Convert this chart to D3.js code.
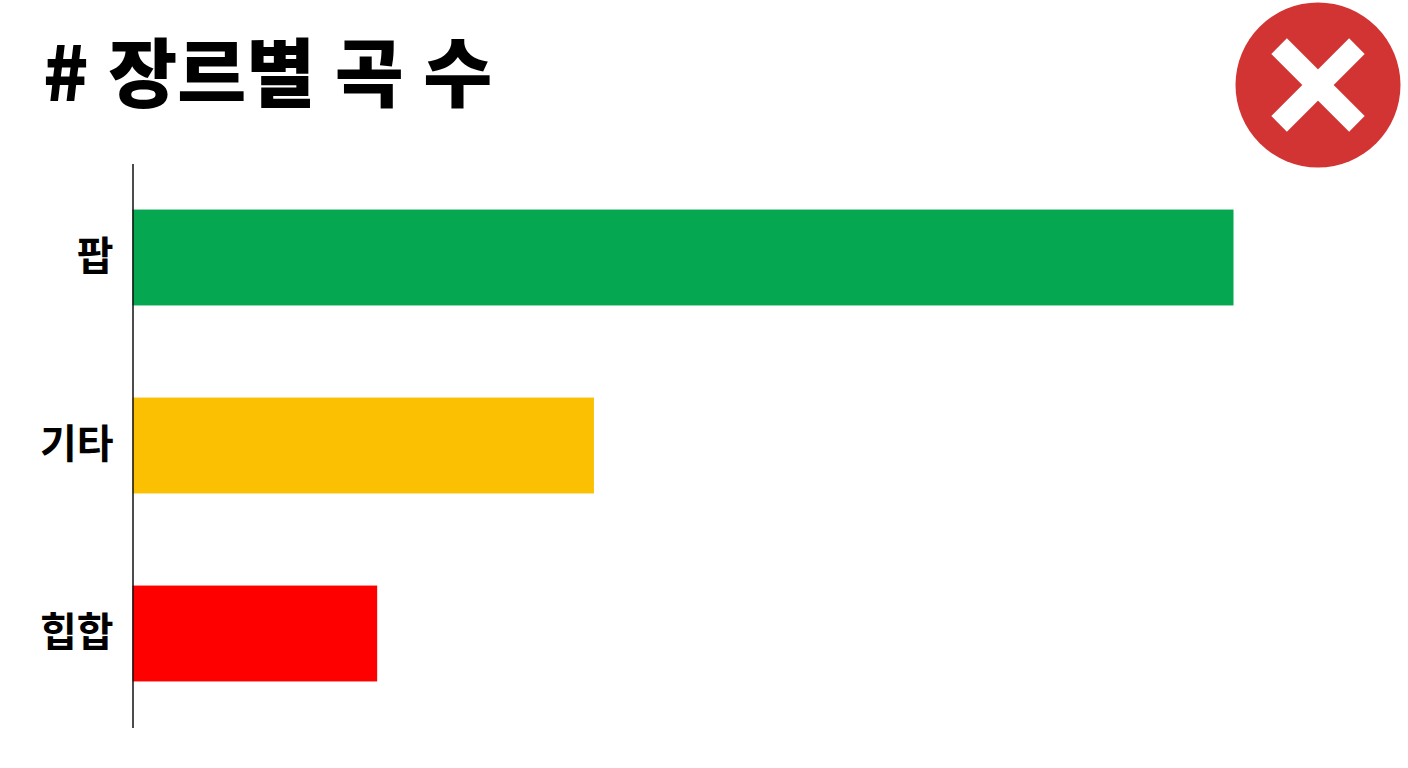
<!DOCTYPE html>
<html lang="ko">
<head>
  <meta charset="UTF-8">
  <title>장르별 곡 수</title>
  <script src="https://d3js.org/d3.v7.min.js"></script>
  <style>
    html, body { margin: 0; padding: 0; background: #fff; overflow: hidden; }
    text { font-family: "Noto Sans CJK KR", sans-serif; fill: #000; }
  </style>
</head>
<body>
<svg></svg>
<script>
  const genres = ['팝', '기타', '힙합'];
  const counts = [45, 18.86, 10];
  const barColors = ['#05a851', '#fbc002', '#ff0000'];
  const titleText = '# 장르별 곡 수';

  const width = 1408;
  const height = 768;
  const axisX = 132.5;

  const svg = d3.select('svg')
    .attr('width', width)
    .attr('height', height)
    .style('display', 'block');

  // 가로 막대 스케일
  const x = d3.scaleLinear().domain([0, 45]).range([axisX, 1233.5]);
  const y = d3.scaleBand().domain(genres).range([163.5, 727.5]).padding(0.49).paddingOuter(0.245);

  svg.append('text')
    .attr('x', 43)
    .attr('y', 101)
    .attr('font-size', 75)
    .attr('font-weight', 900)
    .attr('word-spacing', -1.5)
    .text(titleText);

  svg.append('g')
    .selectAll('rect')
    .data(genres)
    .join('rect')
    .attr('x', axisX)
    .attr('y', d => y(d))
    .attr('width', (d, i) => x(counts[i]) - axisX)
    .attr('height', y.bandwidth())
    .attr('fill', (d, i) => barColors[i]);

  const axis = svg.append('g')
    .attr('transform', `translate(${axisX},0)`)
    .call(d3.axisLeft(y).tickSize(0).tickPadding(19));
  axis.select('.domain').attr('stroke', '#111').attr('stroke-width', 1.5);
  axis.selectAll('text')
    .attr('font-size', 40)
    .attr('font-weight', 700)
    .style('font-family', '"Noto Sans CJK KR", sans-serif');

  // 오른쪽 위 X 표시
  const mark = svg.append('g').attr('transform', 'translate(1318,85)');
  mark.append('circle').attr('r', 82.5).attr('fill', '#d23434');
  mark.selectAll('rect')
    .data([45, -45])
    .join('rect')
    .attr('x', -55)
    .attr('y', -11)
    .attr('width', 110)
    .attr('height', 22)
    .attr('fill', '#fff')
    .attr('transform', d => `rotate(${d})`);
</script>
</body>
</html>
